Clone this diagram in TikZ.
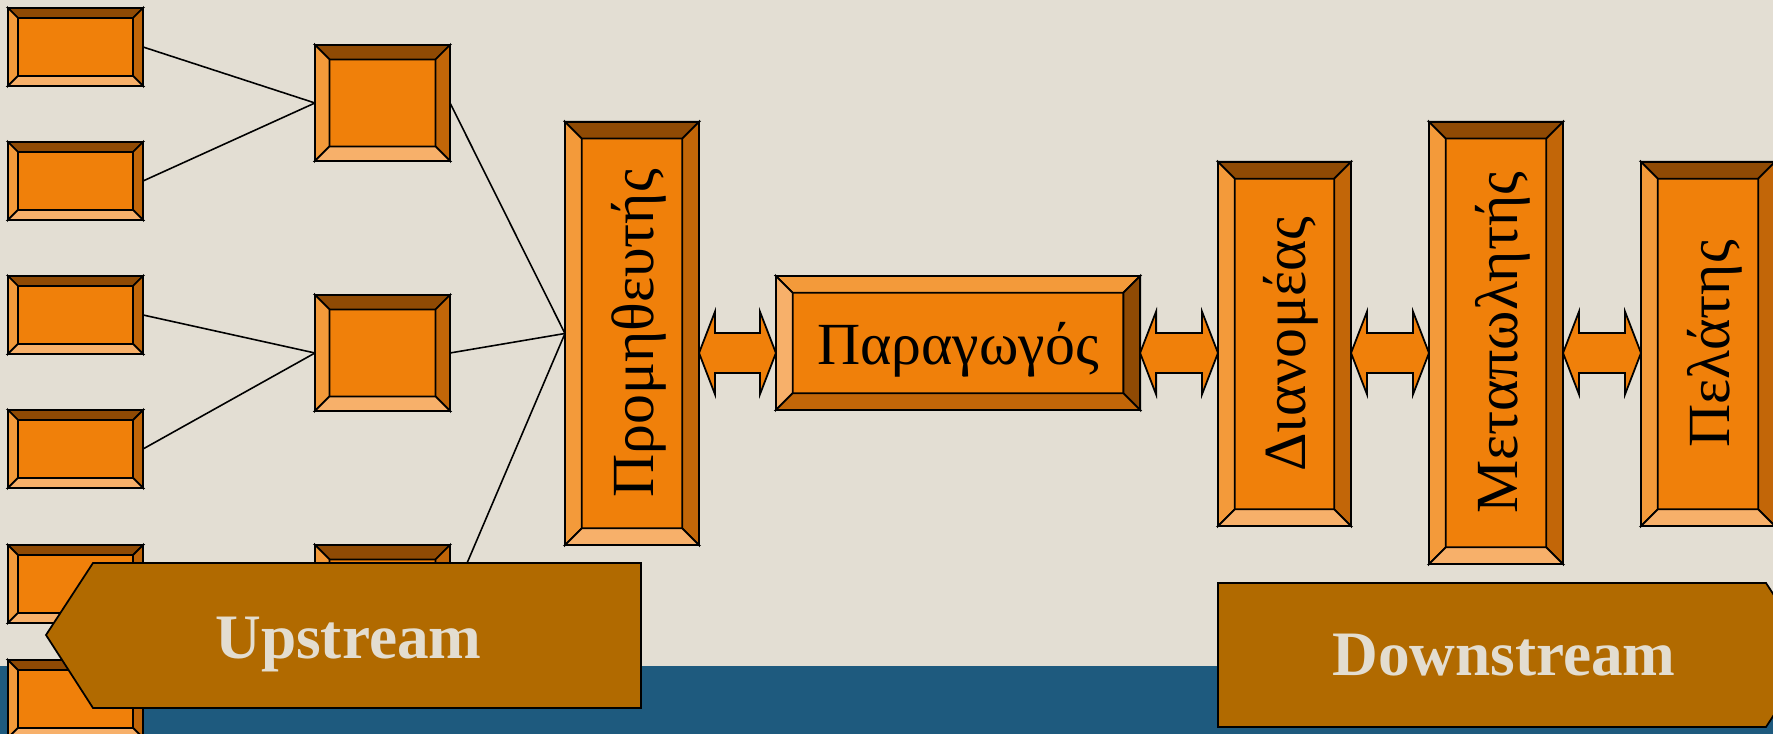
\documentclass[tikz,border=0pt]{standalone}
\usepackage{fontspec}
\setmainfont{Liberation Serif}
\usetikzlibrary{calc}
\definecolor{bgcream}{RGB}{227,222,211}
\definecolor{bandblue}{RGB}{30,90,126}
\definecolor{boxface}{RGB}{240,128,10}
\definecolor{bvdark}{RGB}{143,74,4}
\definecolor{bvmid}{RGB}{194,102,8}
\definecolor{bvlight}{RGB}{243,154,58}
\definecolor{bvpale}{RGB}{247,176,106}
\definecolor{streamfill}{RGB}{177,106,0}
\definecolor{streamtext}{RGB}{227,221,208}

% #1 node, #2 bevel depth, #3-#6 top/left/right/bottom colours
\newcommand\bevel[6]{%
  \coordinate (#1-a) at ($(#1.north west)+(#2,-#2)$);
  \coordinate (#1-b) at ($(#1.north east)+(-#2,-#2)$);
  \coordinate (#1-c) at ($(#1.south east)+(-#2,#2)$);
  \coordinate (#1-d) at ($(#1.south west)+(#2,#2)$);
  \filldraw[bvline, fill=#3] (#1.north west) -- (#1.north east) -- (#1-b) -- (#1-a) -- cycle;
  \filldraw[bvline, fill=#4] (#1.north west) -- (#1-a) -- (#1-d) -- (#1.south west) -- cycle;
  \filldraw[bvline, fill=#5] (#1.north east) -- (#1.south east) -- (#1-c) -- (#1-b) -- cycle;
  \filldraw[bvline, fill=#6] (#1.south west) -- (#1-d) -- (#1-c) -- (#1.south east) -- cycle;
  \draw[bvline] (#1.north west) rectangle (#1.south east);
}
% fat double arrow between two nodes
\newcommand\biarrow[2]{%
  \coordinate (#1-l) at (#1.east |- 0,381);
  \coordinate (#2-r) at (#2.west |- 0,381);
  \filldraw[fatarrow] (#1-l) -- ++(16,41.5) -- ++(0,-21.5) -- ($(#2-r)+(-16,20)$)
    -- ++(0,21.5) -- (#2-r) -- ++(-16,-41.5) -- ++(0,21.5) -- ($(#1-l)+(16,-20)$)
    -- ++(0,-21.5) -- cycle;
}

\begin{document}
\begin{tikzpicture}[x=0.01cm, y=0.01cm,
  every node/.style={inner sep=0pt, outer sep=0pt},
  box/.style={fill=boxface},
  leafbox/.style={box, minimum width=1.35cm, minimum height=0.78cm},
  hubbox/.style={box, minimum width=1.35cm, minimum height=1.16cm},
  tallbox/.style={box, minimum width=1.34cm},
  bvline/.style={draw=black, line width=0.5pt, line join=miter},
  wire/.style={black, line width=0.45pt},
  fatarrow/.style={fill=boxface, draw=black, line width=0.5pt, line join=miter},
  stream/.style={fill=streamfill, draw=black, line width=0.5pt},
  stagelbl/.style={font=\fontsize{17}{20}\selectfont, rotate=90, anchor=base},
  flatlbl/.style={font=\fontsize{17}{20}\selectfont, anchor=base},
  streamlbl/.style={font=\fontsize{18}{22}\selectfont\bfseries, text=streamtext, anchor=base}
]
\useasboundingbox (0,0) rectangle (1773,734);
\clip (0,0) rectangle (1773,734);
\fill[bgcream] (0,0) rectangle (1773,734);
\fill[bandblue] (0,0) rectangle (1773,68);

\foreach \i/\y in {1/687,2/553,3/419,4/285,5/150,6/35}
  \node[leafbox] (leaf\i) at (75.5,\y) {};
\foreach \i/\y in {1/631,2/381,3/131}
  \node[hubbox] (hub\i) at (382.5,\y) {};

\node[tallbox, minimum height=4.23cm] (prom) at (632,400.5) {};
\node[box, minimum width=3.64cm, minimum height=1.34cm] (parag) at (958,391) {};
\node[tallbox, minimum width=1.33cm, minimum height=3.64cm] (dian) at (1284.5,390) {};
\node[tallbox, minimum height=4.42cm] (metap) at (1496,391) {};
\node[tallbox, minimum height=3.64cm] (pelat) at (1708,390) {};

\foreach \a/\b in {1/1,2/1,3/2,4/2,5/3,6/3}
  \draw[wire] (leaf\a.east) -- (hub\b.west);
\foreach \b in {1,2,3}
  \draw[wire] (hub\b.east) -- (prom.west);

\foreach \n in {leaf1,leaf2,leaf3,leaf4,leaf5,leaf6}
  \bevel{\n}{10}{bvdark}{bvlight}{bvmid}{bvpale};
\foreach \n in {hub1,hub2,hub3}
  \bevel{\n}{14.5}{bvdark}{bvlight}{bvmid}{bvpale};
\foreach \n in {prom,dian,metap,pelat}
  \bevel{\n}{16.75}{bvdark}{bvlight}{bvmid}{bvpale};
\bevel{parag}{16.75}{bvlight}{bvpale}{bvdark}{bvmid}

\node[stagelbl] (promlbl) at ($(prom.center)+(21,0)$) {Προμηθευτής};
\node[flatlbl] (paraglbl) at (958,369) {Παραγωγός};
\node[stagelbl] (dianlbl) at ($(dian.center)+(21,0)$) {Διανομέας};
\node[stagelbl] (metaplbl) at ($(metap.center)+(21,0)$) {Μεταπωλητής};
\node[stagelbl] (pelatlbl) at ($(pelat.center)+(21,0)$) {Πελάτης};

\biarrow{prom}{parag}
\biarrow{parag}{dian}
\biarrow{dian}{metap}
\biarrow{metap}{pelat}

\filldraw[stream] (46,99) -- (93,171) -- (641,171) -- (641,26) -- (93,26) -- cycle;
\node[streamlbl] (up) at (348.5,75) {Upstream};
\filldraw[stream] (1218,151) -- (1766,151) -- (1813,79) -- (1766,7) -- (1218,7) -- cycle;
\node[streamlbl] (down) at (1504,58) {Downstream};
\end{tikzpicture}
\end{document}
